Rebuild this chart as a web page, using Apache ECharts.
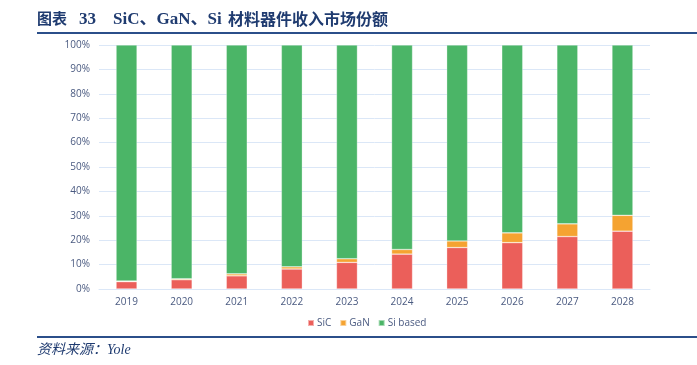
<!DOCTYPE html>
<html><head><meta charset="utf-8">
<script src="https://cdn.jsdelivr.net/npm/echarts@6/dist/echarts.min.js"></script>
<style>html,body{margin:0;padding:0;background:#fff}#c{width:697px;height:365px}</style>
</head><body><div id="c"></div>
<script>
const categories = ['2019','2020','2021','2022','2023','2024','2025','2026','2027','2028'];
const sicValues = [3.0, 3.8, 5.4, 8.2, 10.9, 14.3, 17.0, 19.0, 21.5, 23.7];
const ganValues = [0.3, 0.4, 0.8, 0.9, 1.5, 1.9, 2.7, 4.0, 5.2, 6.5];
const siValues  = [96.7, 95.8, 93.8, 90.9, 87.6, 83.8, 80.3, 77.0, 73.3, 69.8];
const yTicks = [0,10,20,30,40,50,60,70,80,90,100];

const chart = echarts.init(document.getElementById('c'));
const lab = {color:'#4a5a80', fontFamily:'Open Sans, sans-serif', fontSize:10};
const barBorder = {borderColor:'rgba(255,255,255,0.5)', borderWidth:0.6};
const titleColor = '#1f3b70';
chart.setOption({
  animation:false,
  grid:{left:99, right:47, top:45, bottom:76},
  graphic:[
    {type:'text', left:37, top:11, style:{text:'图表', fill:titleColor, font:'bold 15px "Noto Sans CJK SC"'}},
    {type:'text', left:79, top:11, style:{text:'33', fill:titleColor, font:'bold 17px "Liberation Serif"'}},
    {type:'text', left:113, top:11, style:{text:'SiC、GaN、Si', fill:titleColor, font:'bold 17px "Liberation Serif", "Noto Sans CJK SC"'}},
    {type:'text', left:228, top:11, style:{text:'材料器件收入市场份额', fill:titleColor, font:'bold 16px "Noto Sans CJK SC"', letterSpacing:0.7}},
    {type:'rect', shape:{x:37,y:32,width:660,height:2}, style:{fill:'#2b4f8a'}},
    {type:'rect', shape:{x:37,y:336,width:660,height:2}, style:{fill:'#2b4f8a'}},
    {type:'text', left:37, top:343, style:{text:'资料来源：Yole', fill:titleColor, font:'italic 14px "Liberation Serif", "Noto Sans CJK SC"'}}
  ],
  legend:{top:313, left:302, itemWidth:6, itemHeight:6, itemGap:8, icon:'rect',
    textStyle:{color:'#4a5a80', fontFamily:'Open Sans, sans-serif', fontSize:10, padding:[0,0,0,-2]}},
  xAxis:{type:'category', data:categories, axisTick:{show:false},
    axisLine:{lineStyle:{color:'#dbe7f7'}}, axisLabel:Object.assign({margin:8}, lab)},
  yAxis:{type:'value', min:0, max:100, interval:10,
    axisLabel:Object.assign({formatter:v=>yTicks.includes(v)?v+'%':'', margin:9}, lab),
    splitLine:{lineStyle:{color:'#dbe7f7', width:1}}, axisLine:{show:false}},
  series:[
    {name:'SiC', type:'bar', stack:'a', data:sicValues, barWidth:21, itemStyle:Object.assign({color:'#eb5f5a'}, barBorder)},
    {name:'GaN', type:'bar', stack:'a', data:ganValues, barWidth:21, itemStyle:Object.assign({color:'#f5a331'}, barBorder)},
    {name:'Si based', type:'bar', stack:'a', data:siValues, barWidth:21, itemStyle:Object.assign({color:'#4bb567'}, barBorder)}
  ]
});
</script></body></html>
